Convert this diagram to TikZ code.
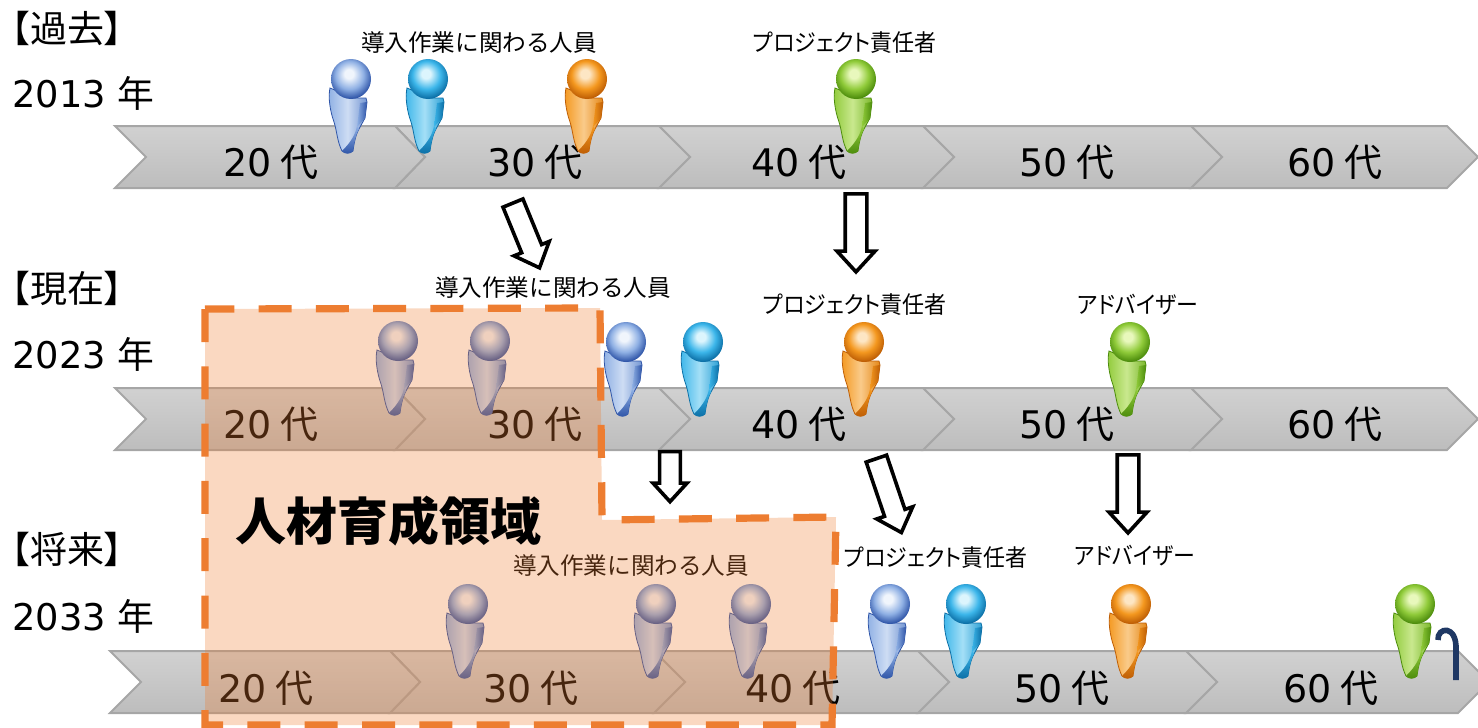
\documentclass[tikz,border=0pt]{standalone}
\usepackage{fontspec}
\setmainfont{DejaVu Sans}
\newfontfamily\cjk{Noto Sans CJK JP}
\newfontfamily\cjkp[RawFeature=+palt]{Noto Sans CJK JP}
\newfontfamily\cjkn[RawFeature=+palt,FakeStretch=0.93]{Noto Sans CJK JP}
\usetikzlibrary{shapes.arrows}
\definecolor{ovl}{HTML}{ED7D31}
\newcommand{\mkball}[4]{\pgfdeclareradialshading{ball#1}{\pgfpoint{-0.1cm}{0.25cm}}{color(0cm)=(#2); color(0.2cm)=(#2); color(0.62cm)=(#3); color(0.98cm)=(#4); color(2cm)=(#4)}}
\definecolor{blueL}{HTML}{F0F5FC}\definecolor{blueM}{HTML}{8FB0E4}\definecolor{blueD}{HTML}{2F55A8}
\definecolor{cyanL}{HTML}{DCF5FD}\definecolor{cyanM}{HTML}{3CB6EA}\definecolor{cyanD}{HTML}{0C6FA6}
\definecolor{orangeL}{HTML}{FDE6C4}\definecolor{orangeM}{HTML}{F4981F}\definecolor{orangeD}{HTML}{BE5E05}
\definecolor{greenL}{HTML}{E8F8BC}\definecolor{greenM}{HTML}{90CB3A}\definecolor{greenD}{HTML}{4C8C0C}
\mkball{blue}{blueL}{blueM}{blueD}
\mkball{cyan}{cyanL}{cyanM}{cyanD}
\mkball{orange}{orangeL}{orangeM}{orangeD}
\mkball{green}{greenL}{greenM}{greenD}
\tikzset{
  person/.pic={
    \path[left color=#1M, right color=#1M!70!#1D, middle color=#1L!65!#1M, draw=#1D, line width=0.4pt]
      (-21,9) .. controls (-23,18) and (-21,32) .. (-17,43) .. controls (-14,52) and (-14,62) .. (-9,72)
      .. controls (-6,75) and (-1,75) .. (2,72) .. controls (3,64) and (5,55) .. (8,50)
      -- (14,39) -- (16,23) -- (15,19) -- (3,19) -- cycle;
    \path[top color=#1M, bottom color=#1D] (-9,72) .. controls (-6,75) and (-1,75) .. (2,72) .. controls (3,64) and (5,55) .. (8,50) -- (6,47) .. controls (4,58) and (-3,66) .. (-9,72) -- cycle;
    \path[left color=#1M, right color=#1D] (9,24) -- (16,23) -- (14,39) -- (6,48) -- cycle;
    \path[shading=ball#1] (0,0) circle (20);
  },
  chev/.style={draw=gray!70, line width=1pt, top color=black!18, bottom color=black!26},
  age/.style={inner sep=0pt, font=\fontsize{19}{19}\selectfont},
  head/.style={inner sep=0pt, font=\cjkp\fontsize{18.5}{18.5}\selectfont, anchor=center},
  yr/.style={inner sep=0pt, anchor=west, font=\fontsize{18.4}{18.4}\selectfont},
  lab/.style={inner sep=0pt, font=\cjk\fontsize{11.8}{11.8}\selectfont},
  labk/.style={inner sep=0pt, font=\cjkn\fontsize{11.8}{11.8}\selectfont},
  blk/.style={single arrow, draw=black, fill=white, line width=1.8pt, inner xsep=0pt, inner ysep=3.7pt, minimum width=19pt, single arrow head extend=3.5pt, single arrow tip angle=85, minimum height=#1, outer sep=0pt}
}
\newcommand{\rowchev}[3]{% y-top, x-offset, extra on the last chevron
  \begin{scope}[shift={(#2,#1)}]
  \path[chev] (1191,0) -- (1447+#3,0) -- (1478+#3,31) -- (1447+#3,62) -- (1191,62) -- (1222,31) -- cycle;
  \path[chev] (923,0) -- (1191,0) -- (1222,31) -- (1191,62) -- (923,62) -- (954,31) -- cycle;
  \path[chev] (659,0) -- (923,0) -- (954,31) -- (923,62) -- (659,62) -- (690,31) -- cycle;
  \path[chev] (395,0) -- (659,0) -- (690,31) -- (659,62) -- (395,62) -- (425,31) -- cycle;
  \path[chev] (115,0) -- (395,0) -- (425,31) -- (395,62) -- (115,62) -- (146,31) -- cycle;
  \end{scope}}
\newcommand{\agetxt}[1]{#1\hspace{4.5pt}{\cjk 代}}
\begin{document}
\begin{tikzpicture}[x=0.5pt,y=-0.5pt]
\useasboundingbox (0,0) rectangle (1478,728);
\clip (0,0) rectangle (1478,728);
\rowchev{126}{0}{0}
\rowchev{388}{0}{0}
\rowchev{651}{-5}{16}
% ages
\foreach \n/\x/\y/\t in {a1/271/162/20,a2/535/162/30,a3/799/162/40,a4/1067/162/50,a5/1335/162/60,
  b1/271/424/20,b2/535/424/30,b3/799/424/40,b4/1067/424/50,b5/1335/424/60,
  c1/266/688/20,c2/531/688/30,c3/793/688/40,c4/1062/688/50,c5/1331/688/60}
  \node[age] (\n) at (\x,\y) {\agetxt{\t}};
% headings
\node[head] (h1) at (67,28) {【過去】};
\node[head] (h2) at (67,288) {【現在】};
\node[head] (h3) at (67,549) {【将来】};
\node[yr] (y1) at (12,93) {2013 {\cjk 年}};
\node[yr] (y2) at (12,354) {2023 {\cjk 年}};
\node[yr] (y3) at (12,616) {2033 {\cjk 年}};
% labels
\node[lab] (l1) at (479,43) {導入作業に関わる人員};
\node[labk] (l2) at (845,43) {プロジェクト責任者};
\node[lab] (l3) at (553,288) {導入作業に関わる人員};
\node[labk] (l4) at (855,305) {プロジェクト責任者};
\node[labk] (l5) at (1138,305) {アドバイザー};
\node[lab] (l6) at (631,566) {導入作業に関わる人員};
\node[labk] (l7) at (936,558) {プロジェクト責任者};
\node[labk] (l8) at (1135,556) {アドバイザー};
% persons
\foreach \x/\y/\c in {351/79/blue,428/79/cyan,587/79/orange,856/79/green,
  398/341/blue,490/341/blue,626/342/blue,703/342/cyan,864/342/orange,1130/342/green,
  468/604/blue,656/604/blue,751/604/blue,890/604/blue,966/604/cyan,1131/604/orange,1415/604/green}
  \pic at (\x,\y) {person=\c};
% cane
\coordinate (caneA) at (1438,640);
\coordinate (caneB) at (1456,680);
\draw[color={rgb,255:red,31;green,56;blue,100}, line width=2.8pt] (caneA) .. controls (1437,627) and (1457,624) .. (1456,650) -- (caneB);
% block arrows
\node[blk=35pt, rotate=-67.7] (ar1) at (524,230) {};
\node[blk=39pt, rotate=-90] (ar2) at (856,227) {};
\node[blk=25pt, minimum width=17pt, inner ysep=3pt, single arrow head extend=2.5pt, rotate=-90] (ar3) at (670,471) {};
\node[blk=39pt, rotate=-71.3] (ar4) at (887,490) {};
\node[blk=39pt, rotate=-90] (ar5) at (1128,488) {};
% region
\path[fill=ovl, fill opacity=0.3] (205,309) -- (205,725) -- (832,725) -- (836,517) -- (602,520) -- (600,308) -- cycle;
\draw[ovl, line width=3.6pt, dash pattern=on 16.5pt off 12.15pt] (205,309) -- (205,725) -- (832,725) -- (836,517) -- (602,520) -- (600,308) -- cycle;
\node[inner sep=0pt, font=\cjk\bfseries\fontsize{25.5}{25.5}\selectfont] (reg) at (388,521) {人材育成領域};
\end{tikzpicture}
\end{document}
